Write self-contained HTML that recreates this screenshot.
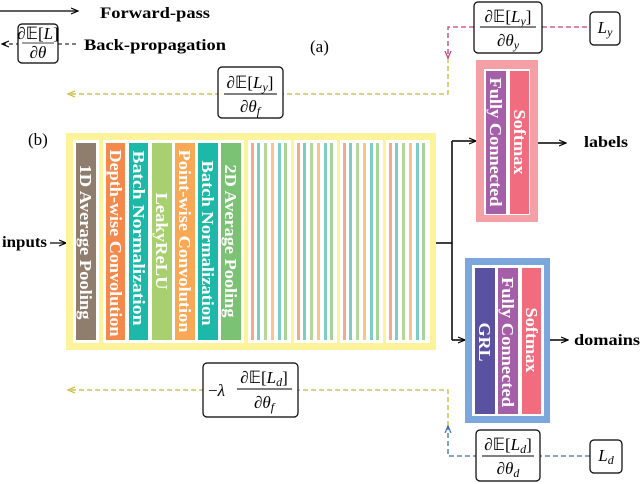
<!DOCTYPE html>
<html><head><meta charset="utf-8"><style>
html,body{margin:0;padding:0;background:#fff;}
svg{display:block;}
.b{font-family:"Liberation Serif",serif;font-weight:bold;}
.m{font-family:"Liberation Serif",serif;font-size:17px;}
.v{font-family:"Liberation Serif",serif;font-weight:bold;font-size:17px;fill:#fff;}
</style></head><body>
<svg width="640" height="484" viewBox="0 0 640 484" xmlns="http://www.w3.org/2000/svg">
<defs>
<marker id="ak" markerWidth="8" markerHeight="8" refX="7" refY="4" orient="auto" markerUnits="userSpaceOnUse"><path d="M0,1 L7,4 L0,7" fill="none" stroke="#000" stroke-width="1.2"/></marker>
<marker id="ay" markerWidth="8" markerHeight="8" refX="7" refY="4" orient="auto" markerUnits="userSpaceOnUse"><path d="M0,1 L7,4 L0,7" fill="none" stroke="#c8b830" stroke-width="1.2"/></marker>
<marker id="ap" markerWidth="8" markerHeight="8" refX="7" refY="4" orient="auto" markerUnits="userSpaceOnUse"><path d="M0,1 L7,4 L0,7" fill="none" stroke="#c0407a" stroke-width="1.2"/></marker>
<marker id="ab" markerWidth="8" markerHeight="8" refX="7" refY="4" orient="auto" markerUnits="userSpaceOnUse"><path d="M0,1 L7,4 L0,7" fill="none" stroke="#3a70b0" stroke-width="1.2"/></marker>
</defs>

<!-- legend -->
<line x1="0" y1="11" x2="78" y2="11" stroke="#000" stroke-width="1.2" marker-end="url(#ak)"/>
<text x="100" y="18" class="b" font-size="16" textLength="110" lengthAdjust="spacingAndGlyphs">Forward-pass</text>
<line x1="76" y1="44" x2="2" y2="44" stroke="#000" stroke-width="1" stroke-dasharray="4,3" marker-end="url(#ak)"/>
<rect x="18" y="24" width="40" height="39" rx="4" fill="#fff" stroke="#000" stroke-width="1.2"/>
<text x="38" y="39" class="m" font-size="13" text-anchor="middle">∂𝔼[<tspan font-style="italic">L</tspan>]</text>
<line x1="22" y1="43" x2="54" y2="43" stroke="#000" stroke-width="0.8"/>
<text x="38" y="58" class="m" font-size="13" text-anchor="middle" font-style="italic">∂θ</text>
<text x="84" y="50" class="b" font-size="16" textLength="142" lengthAdjust="spacingAndGlyphs">Back-propagation</text>
<text x="310" y="52" class="m" font-size="16">(a)</text>
<text x="28" y="145" class="m" font-size="16">(b)</text>

<!-- yellow top dashed -->
<polyline points="448,58 448,94 68,94" fill="none" stroke="#c8b830" stroke-width="1.3" stroke-dasharray="5,3" marker-end="url(#ay)"/>
<polyline points="474,27 448,27 448,58" fill="none" stroke="#c0407a" stroke-width="1.3" stroke-dasharray="5,3" marker-end="url(#ap)"/>
<line x1="542" y1="27" x2="590" y2="27" stroke="#c0407a" stroke-width="1.3" stroke-dasharray="5,3"/>
<rect x="218" y="67" width="65" height="51" rx="4" fill="#fff" stroke="#000" stroke-width="1.2"/>
<text x="250" y="88" class="m" text-anchor="middle">∂𝔼[<tspan font-style="italic">L<tspan font-size="12" dy="3">y</tspan></tspan><tspan dy="-3">]</tspan></text>
<line x1="224" y1="94" x2="277" y2="94" stroke="#000" stroke-width="0.9"/>
<text x="250" y="112" class="m" text-anchor="middle" font-style="italic">∂θ<tspan font-size="12" dy="3">f</tspan></text>

<rect x="474" y="2" width="68" height="51" rx="4" fill="#fff" stroke="#000" stroke-width="1.2"/>
<text x="508" y="22" class="m" text-anchor="middle">∂𝔼[<tspan font-style="italic">L<tspan font-size="12" dy="3">y</tspan></tspan><tspan dy="-3">]</tspan></text>
<line x1="480" y1="27" x2="536" y2="27" stroke="#000" stroke-width="0.9"/>
<text x="508" y="46" class="m" text-anchor="middle" font-style="italic">∂θ<tspan font-size="12" dy="3">y</tspan></text>
<rect x="590" y="12" width="30" height="33" rx="4" fill="#fff" stroke="#000" stroke-width="1.2"/>
<text x="605" y="33" class="m" text-anchor="middle" font-style="italic">L<tspan font-size="12" dy="3">y</tspan></text>

<!-- inputs -->
<text x="2" y="247" class="b" font-size="16" textLength="45" lengthAdjust="spacingAndGlyphs">inputs</text>
<line x1="50" y1="243" x2="66" y2="243" stroke="#000" stroke-width="1.2" marker-end="url(#ak)"/>

<!-- yellow main box -->
<rect x="66" y="133" width="370" height="217" fill="#fdf39a"/>
<rect x="73" y="140" width="26" height="203" fill="#fff"/>
<rect x="76" y="143" width="20" height="197" fill="#8f7e6e"/>
<rect x="103" y="140" width="141" height="203" fill="#fff"/>
<rect x="106" y="143" width="19" height="197" fill="#f4894b"/>
<rect x="129" y="143" width="19" height="197" fill="#1db8a8"/>
<rect x="152" y="143" width="20" height="197" fill="#a8d06e"/>
<rect x="175" y="143" width="20" height="197" fill="#f9a855"/>
<rect x="198" y="143" width="20" height="197" fill="#1db8a8"/>
<rect x="221" y="143" width="20" height="197" fill="#7cc275"/>
<g class="v">
<text transform="translate(80,242) rotate(90)" text-anchor="middle" textLength="155" lengthAdjust="spacingAndGlyphs">1D Average Pooling</text>
<text transform="translate(110,243) rotate(90)" text-anchor="middle" textLength="187" lengthAdjust="spacingAndGlyphs">Depth-wise Convolution</text>
<text transform="translate(133,238) rotate(90)" text-anchor="middle" textLength="175" lengthAdjust="spacingAndGlyphs">Batch Normalization</text>
<text transform="translate(156,241) rotate(90)" text-anchor="middle" textLength="97" lengthAdjust="spacingAndGlyphs">LeakyReLU</text>
<text transform="translate(179,241) rotate(90)" text-anchor="middle" textLength="183" lengthAdjust="spacingAndGlyphs">Point-wise Convolution</text>
<text transform="translate(202,243) rotate(90)" text-anchor="middle" textLength="165" lengthAdjust="spacingAndGlyphs">Batch Normalization</text>
<text transform="translate(225,241) rotate(90)" text-anchor="middle" textLength="153" lengthAdjust="spacingAndGlyphs">2D Average Pooling</text>
</g>
<g>
<rect x="248" y="140" width="43" height="203" fill="#fff"/>
<rect x="294" y="140" width="43" height="203" fill="#fff"/>
<rect x="340" y="140" width="43" height="203" fill="#fff"/>
<rect x="386" y="140" width="44" height="203" fill="#fff"/>
</g>
<g id="st">
<rect x="251" y="143" width="3" height="197" fill="#f6a88a"/>
<rect x="257" y="143" width="3" height="197" fill="#7ccdc8"/>
<rect x="264" y="143" width="3" height="197" fill="#b5d89a"/>
<rect x="271" y="143" width="3" height="197" fill="#f9c48a"/>
<rect x="278" y="143" width="3" height="197" fill="#7ccdc8"/>
<rect x="284" y="143" width="3" height="197" fill="#a8d49a"/>
</g>
<use href="#st" x="46"/>
<use href="#st" x="92"/>
<use href="#st" x="138"/>

<!-- branch -->
<line x1="436" y1="243" x2="452" y2="243" stroke="#000" stroke-width="1.5"/>
<line x1="452" y1="141" x2="452" y2="340" stroke="#000" stroke-width="1.5"/>
<line x1="452" y1="141" x2="476" y2="141" stroke="#000" stroke-width="1.5" marker-end="url(#ak)"/>
<line x1="452" y1="340" x2="465" y2="340" stroke="#000" stroke-width="1.5" marker-end="url(#ak)"/>

<!-- pink box -->
<rect x="476" y="60" width="62" height="162" fill="#f4a0a6"/>
<rect x="484" y="69" width="46" height="146" fill="#fff"/>
<rect x="486" y="71" width="20" height="143" fill="#a55fa8"/>
<rect x="510" y="71" width="19" height="143" fill="#f06c7e"/>
<text transform="translate(490,142) rotate(90)" text-anchor="middle" class="v" textLength="129" lengthAdjust="spacingAndGlyphs">Fully Connected</text>
<text transform="translate(514,142) rotate(90)" text-anchor="middle" class="v" textLength="65" lengthAdjust="spacingAndGlyphs">Softmax</text>
<line x1="538" y1="143" x2="566" y2="143" stroke="#000" stroke-width="1.5" marker-end="url(#ak)"/>
<text x="584" y="147" class="b" font-size="16" textLength="44" lengthAdjust="spacingAndGlyphs">labels</text>

<!-- blue box -->
<rect x="465" y="258" width="85" height="165" fill="#7ba7dc"/>
<rect x="472" y="265" width="72" height="151" fill="#fff"/>
<rect x="475" y="268" width="20" height="146" fill="#5a52a0"/>
<rect x="498" y="268" width="20" height="146" fill="#a55fa8"/>
<rect x="522" y="268" width="19" height="146" fill="#f06c7e"/>
<text transform="translate(479,342) rotate(90)" text-anchor="middle" class="v" textLength="39" lengthAdjust="spacingAndGlyphs">GRL</text>
<text transform="translate(502,342) rotate(90)" text-anchor="middle" class="v" textLength="130" lengthAdjust="spacingAndGlyphs">Fully Connected</text>
<text transform="translate(526,340) rotate(90)" text-anchor="middle" class="v" textLength="65" lengthAdjust="spacingAndGlyphs">Softmax</text>
<line x1="550" y1="340" x2="568" y2="340" stroke="#000" stroke-width="1.5" marker-end="url(#ak)"/>
<text x="574" y="345" class="b" font-size="16" textLength="66" lengthAdjust="spacingAndGlyphs">domains</text>

<!-- bottom dashed -->
<polyline points="448,426 448,390 68,390" fill="none" stroke="#c8b830" stroke-width="1.3" stroke-dasharray="5,3" marker-end="url(#ay)"/>
<polyline points="590,456 448,456 448,426" fill="none" stroke="#3a70b0" stroke-width="1.3" stroke-dasharray="5,3" marker-end="url(#ab)"/>
<rect x="203" y="363" width="95" height="54" rx="4" fill="#fff" stroke="#000" stroke-width="1.2"/>
<text x="208" y="396" class="m" font-size="19">−<tspan font-style="italic">λ</tspan></text>
<text x="264" y="383" class="m" text-anchor="middle">∂𝔼[<tspan font-style="italic">L<tspan font-size="12" dy="3">d</tspan></tspan><tspan dy="-3">]</tspan></text>
<line x1="237" y1="389" x2="292" y2="389" stroke="#000" stroke-width="0.9"/>
<text x="264" y="408" class="m" text-anchor="middle" font-style="italic">∂θ<tspan font-size="12" dy="3">f</tspan></text>

<rect x="476" y="430" width="64" height="51" rx="4" fill="#fff" stroke="#000" stroke-width="1.2"/>
<text x="508" y="450" class="m" text-anchor="middle">∂𝔼[<tspan font-style="italic">L<tspan font-size="12" dy="3">d</tspan></tspan><tspan dy="-3">]</tspan></text>
<line x1="482" y1="456" x2="534" y2="456" stroke="#000" stroke-width="0.9"/>
<text x="508" y="474" class="m" text-anchor="middle" font-style="italic">∂θ<tspan font-size="12" dy="3">d</tspan></text>
<rect x="590" y="440" width="32" height="33" rx="4" fill="#fff" stroke="#000" stroke-width="1.2"/>
<text x="606" y="461" class="m" text-anchor="middle" font-style="italic">L<tspan font-size="12" dy="3">d</tspan></text>
</svg>
</body></html>
